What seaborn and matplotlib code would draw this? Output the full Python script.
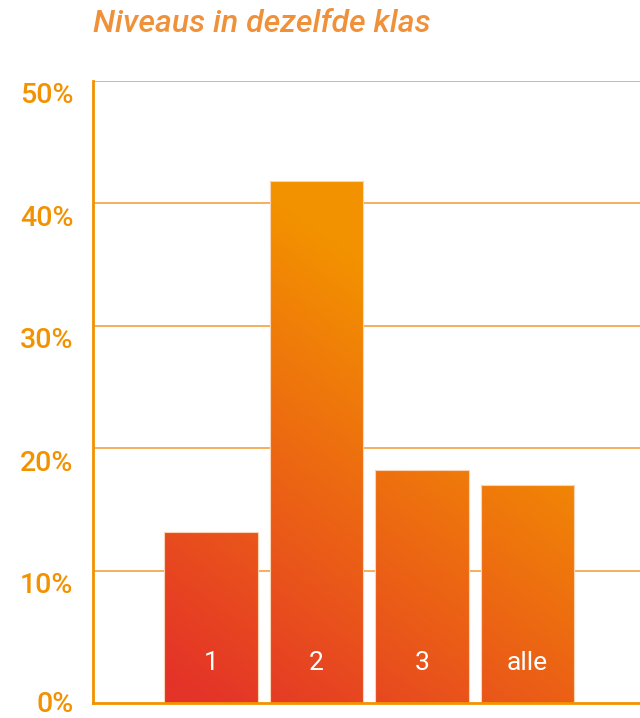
import numpy as np
import pandas as pd
import matplotlib
matplotlib.use("Agg")
import matplotlib.pyplot as plt
import matplotlib.transforms as mtransforms
from matplotlib.colors import LinearSegmentedColormap
import seaborn as sns

# ---- data ----
categories = ["1", "2", "3", "alle"]
values = [13.2, 41.8, 18.2, 17.0]
yticks = [0, 10, 20, 30, 40, 50]
ytick_labels = ["0%", "10%", "20%", "30%", "40%", "50%"]
title = "Niveaus in dezelfde klas"

sns.set_theme(style="white")
plt.rcParams["font.family"] = ["Roboto", "DejaVu Sans"]

ORANGE = "#F39200"
RED = "#E43329"
GRID = "#F6A94F"

W, H = 640, 718
fig = plt.figure(figsize=(W / 100, H / 100), dpi=100)
ax_left, ax_right, ax_top, ax_bot = 93, 640, 80.5, 703
ax = fig.add_axes([ax_left / W, (H - ax_bot) / H, (ax_right - ax_left) / W, (ax_bot - ax_top) / H])

df = pd.DataFrame({"cat": categories, "val": values})
sns.barplot(data=df, x="cat", y="val", ax=ax, width=0.89, color=ORANGE, zorder=3)

ylo, yhi = -0.775, 50
xlo, xhi = -1.118, 4.066
ax.set_ylim(ylo, yhi)
ax.set_xlim(xlo, xhi)

# gradient (diagonal: red bottom-left -> orange top-right)
cmap = LinearSegmentedColormap.from_list("grad", [RED, ORANGE])
px = np.linspace(ax_left, ax_right, 300)
py = np.linspace(ax_top, ax_bot, 300)
PX, PY = np.meshgrid(px, py)
T = np.clip(0.02 + 0.00127 * (PX - 211) + 0.0018 * (700 - PY), 0, 1)

for i, p in enumerate(ax.patches):
    top = p.get_y() + p.get_height()
    p.set_y(ylo)
    p.set_height(top - ylo)
    p.set_facecolor("none")
    p.set_edgecolor("#FBD3B5")
    p.set_linewidth(0.8)
    im = ax.imshow(T, cmap=cmap, vmin=0, vmax=1, extent=(xlo, xhi, ylo, yhi),
                   origin="upper", aspect="auto", zorder=2.5, interpolation="bilinear")
    im.set_clip_path(p)

# bar labels
for i, c in enumerate(categories):
    ax.text(i, 2.5, c, ha="center", va="center", color="white", fontsize=19,
            fontweight="normal", zorder=5)

ax.set_yticks(yticks)
ax.set_yticklabels(ytick_labels)
ax.set_xticks([])
ax.set_xlabel("")
ax.set_ylabel("")
ax.tick_params(axis="y", length=0, pad=14, labelsize=20.5, labelcolor=ORANGE)
for k, lab in enumerate(ax.get_yticklabels()):
    lab.set_fontweight("medium")
    dy = -0.085 if k == 0 else -0.12
    lab.set_transform(lab.get_transform() + mtransforms.ScaledTranslation(0, dy, fig.dpi_scale_trans))

ax.yaxis.grid(True, color=GRID, linewidth=1.3, zorder=0)
ax.set_axisbelow(True)
gl = ax.yaxis.get_gridlines()
gl[0].set_visible(False)
for s in ["top", "right"]:
    ax.spines[s].set_visible(False)
for s in ["left", "bottom"]:
    ax.spines[s].set_color(ORANGE)
    ax.spines[s].set_linewidth(2)
    ax.spines[s].set_zorder(6)

fig.text(ax_left / W, 1 - 23 / H, title, ha="left", va="center", color="#F0913A",
         fontsize=23, fontstyle="italic", fontweight="medium")

fig.savefig("out.png", dpi=100)
